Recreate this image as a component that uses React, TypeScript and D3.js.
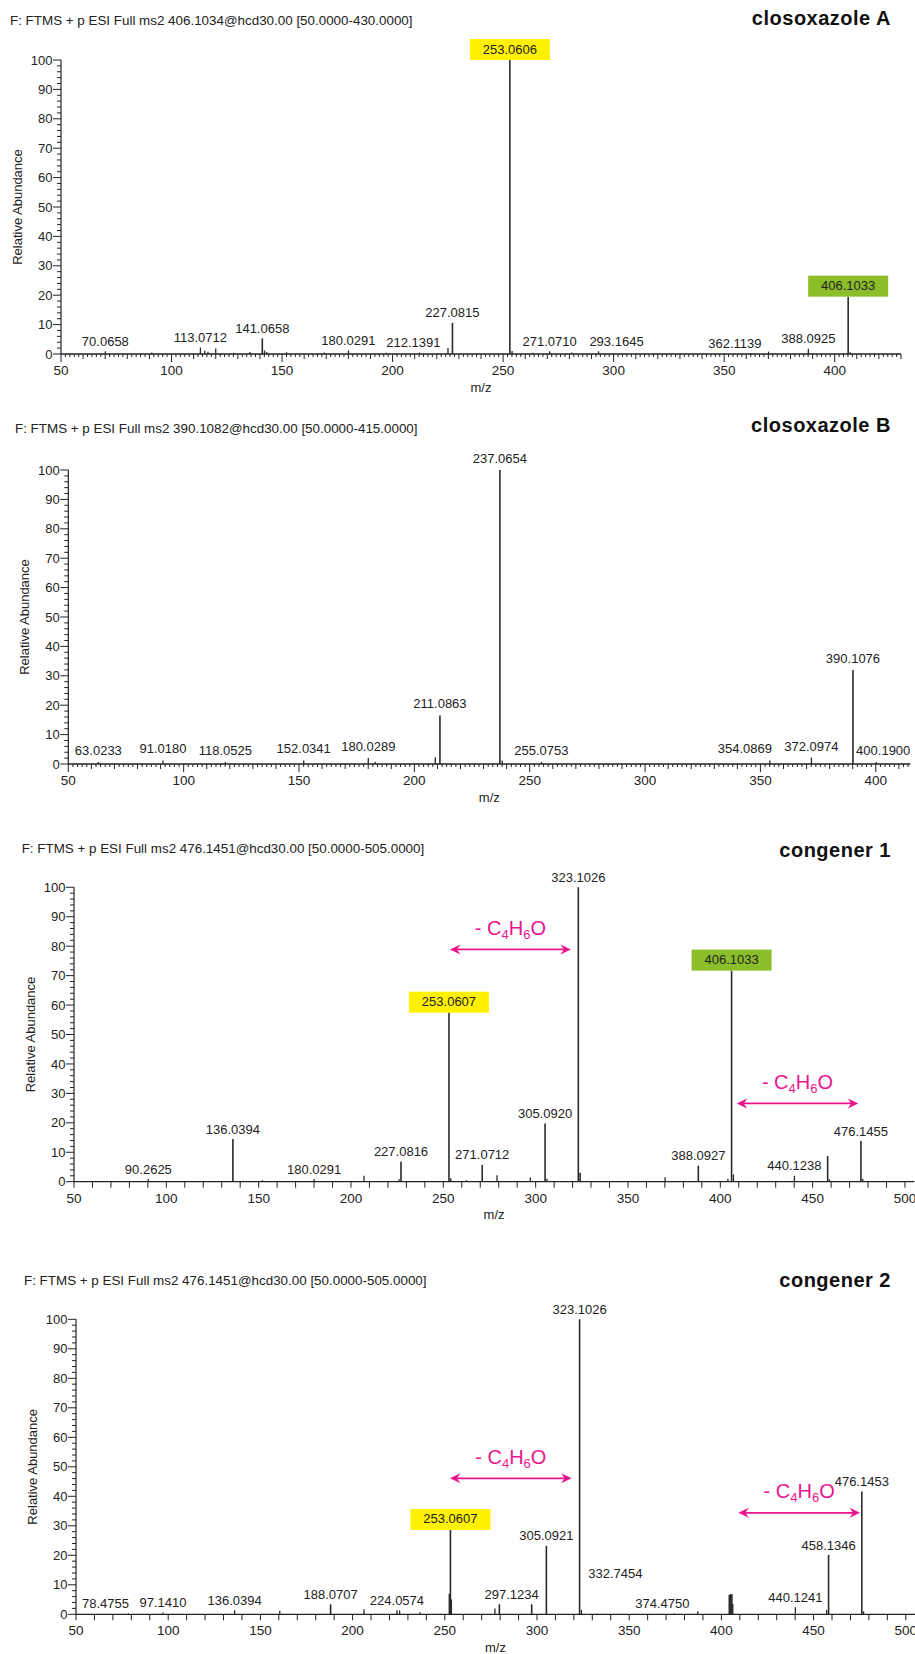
import React from 'react';
import * as d3 from 'd3';

// ---------- DATA ----------
const scanTitles = [
  'F: FTMS + p ESI Full ms2 406.1034@hcd30.00 [50.0000-430.0000]',
  'F: FTMS + p ESI Full ms2 390.1082@hcd30.00 [50.0000-415.0000]',
  'F: FTMS + p ESI Full ms2 476.1451@hcd30.00 [50.0000-505.0000]',
  'F: FTMS + p ESI Full ms2 476.1451@hcd30.00 [50.0000-505.0000]',
];
const compoundNames = ['closoxazole A', 'closoxazole B', 'congener 1', 'congener 2'];
const mzRanges: [number, number][] = [[50, 430], [50, 415], [50, 505], [50, 505]];
const yTickValues = [0, 10, 20, 30, 40, 50, 60, 70, 80, 90, 100];
const xAxisTitle = 'm/z';
const yAxisTitle = 'Relative Abundance';

// [m/z, relative abundance %]
const peaksA: [number, number][] = [
  [70.0658, 0.9], [91.05, 0.5], [113.0712, 2.2], [115.05, 1.2], [116.5, 0.8], [120.0, 1.9],
  [128.06, 0.4], [135.5, 0.7], [141.0658, 5.3], [142.07, 1.2], [143.07, 0.7], [152.06, 0.6],
  [169.07, 0.5], [180.0291, 1.2], [197.1, 0.4], [212.1391, 0.5], [225.07, 2.0], [227.0815, 10.6],
  [253.0606, 100], [254.06, 1.0], [263.5, 0.4], [271.071, 0.9], [281.08, 0.5], [293.1645, 0.9],
  [362.1139, 0.3], [370.1, 0.8], [388.0925, 1.8], [406.1033, 19.5], [407.1, 0.6],
];
const peaksB: [number, number][] = [
  [63.0233, 0.7], [91.018, 1.2], [118.0525, 0.7], [152.0341, 1.2], [180.0289, 2.0], [183.0, 0.8],
  [209.08, 2.3], [211.0863, 16.5], [237.0654, 100], [238.07, 1.2], [255.0753, 0.7],
  [354.0869, 1.2], [372.0974, 2.2], [390.1076, 32], [400.19, 0.7],
];
const peaksC1: [number, number][] = [
  [90.2625, 0.9], [136.0394, 14.5], [152.05, 0.5], [180.0291, 0.9], [207.07, 2.0], [226.07, 0.8],
  [227.0816, 6.8], [253.0607, 57.4], [254.06, 1.2], [262.6, 0.5], [271.0712, 5.7], [279.07, 2.2],
  [297.1, 1.4], [305.092, 19.8], [306.09, 1.0], [323.1026, 100], [324.1, 3.0], [370.1, 1.5],
  [388.0927, 5.4], [404.1, 1.0], [406.1033, 71.7], [407.1, 2.5], [440.1238, 2.0],
  [458.1346, 8.7], [459.1, 0.8], [476.1455, 13.8], [477.15, 1.0],
];
const peaksC2: [number, number][] = [
  [78.4755, 0.3], [97.141, 0.6], [136.0394, 1.4], [160.5, 1.2], [188.0707, 3.4], [206.2, 1.7],
  [224.0574, 1.4], [225.5, 1.3], [236.5, 0.7], [252.5, 7.0], [253.0607, 28.6], [253.5, 5.0],
  [277.2, 2.0], [279.6, 3.4], [297.1234, 3.4], [305.0921, 23.2], [323.1026, 100], [324.1, 1.5],
  [332.7454, 0.2], [374.475, 0.3], [387.2, 1.0], [404.3, 6.6], [405.0, 6.9], [405.7, 6.8],
  [406.1, 3.5], [440.1241, 2.4], [457.1, 1.5], [458.1346, 20.1], [476.1453, 41.6], [477.1, 1.0],
];
const allPeaks = [peaksA, peaksB, peaksC1, peaksC2];

const labelsA = ['70.0658', '113.0712', '141.0658', '180.0291', '212.1391', '227.0815', '253.0606',
  '271.0710', '293.1645', '362.1139', '388.0925', '406.1033'];
const labelsB = ['63.0233', '91.0180', '118.0525', '152.0341', '180.0289', '211.0863', '237.0654',
  '255.0753', '354.0869', '372.0974', '390.1076', '400.1900'];
const labelsC1 = ['90.2625', '136.0394', '180.0291', '227.0816', '253.0607', '271.0712', '305.0920',
  '323.1026', '388.0927', '406.1033', '440.1238', '476.1455'];
const labelsC2 = ['78.4755', '97.1410', '136.0394', '188.0707', '224.0574', '253.0607', '297.1234',
  '305.0921', '323.1026', '332.7454', '374.4750', '440.1241', '458.1346', '476.1453'];
const allLabels = [labelsA, labelsB, labelsC1, labelsC2];

// highlighted ions: [panel, label, kind]
const highlighted: [number, string, string][] = [
  [0, '253.0606', 'core'], [0, '406.1033', 'parent'],
  [2, '253.0607', 'core'], [2, '406.1033', 'parent'],
  [3, '253.0607', 'core'],
];

// neutral loss annotations: [panel, m/z from, m/z to, level %]
const lossArrows: [number, number, number, number][] = [
  [2, 253.6, 319.1, 78.9], [2, 408.9, 474.7, 26.6],
  [3, 252.8, 318.8, 46.1], [3, 409.2, 475.2, 34.4],
];

// ---------- LAYOUT / STYLE ----------
const W = 915, H = 1654;
const FONT = '"Liberation Sans", Arial, Helvetica, sans-serif';
const boxColors: Record<string, string> = { core: '#FFF200', parent: '#8CBE29' };
const PINK = '#EC148C';
const INK = '#222';

const layouts = [
  { x0: 61, x1: 901, y0: 354, y100: 60, titleX: 10, titleY: 25, nameY: 25, dense: true, gap: 5.5 },
  { x0: 68.3, x1: 910.4, y0: 764, y100: 470, titleX: 15, titleY: 433, nameY: 431.7, dense: true, gap: 7 },
  { x0: 74, x1: 914.2, y0: 1181.7, y100: 887.3, titleX: 21.7, titleY: 852.7, nameY: 856.7, dense: false, gap: 5.5 },
  { x0: 76, x1: 915, y0: 1614.3, y100: 1319.3, titleX: 24, titleY: 1285, nameY: 1287.3, dense: false, gap: 5.5 },
];
// label nudges in px (dx) and optional fixed baseline level (%)
const labelNudge: Record<string, { dx?: number; level?: number }>[] = [
  { '212.1391': { dx: -6 }, '293.1645': { dx: 18 }, '362.1139': { dx: -16 } },
  { '354.0869': { dx: -25 }, '400.1900': { dx: 7 } },
  {},
  { '78.4755': { dx: -23 }, '297.1234': { dx: -20 }, '332.7454': { dx: 18, level: 12.3 }, '374.4750': { dx: -12 } },
];

function Panel({ i }: { i: number }) {
  const L = layouts[i];
  const [m0, m1] = mzRanges[i];
  const x = d3.scaleLinear().domain([m0, m1]).range([L.x0, L.x1]);
  const y = d3.scaleLinear().domain([0, 100]).range([L.y0, L.y100]);
  const peaks = allPeaks[i];
  const xTicks = L.dense ? d3.range(m0, m1 + 0.001, 2) : d3.range(m0, m1 + 0.001, 10);
  const xLabels = d3.range(m0, m1 + 0.001, 50);
  const yMinor = d3.range(0, 100.001, 2);
  const boxes = highlighted.filter((h) => h[0] === i);
  const findInt = (v: number) => {
    const p = peaks.find((q) => Math.abs(q[0] - v) < 0.02);
    return p ? p[1] : 0;
  };
  const cx = (L.x0 + L.x1) / 2;
  const cy = (L.y0 + L.y100) / 2;

  return (
    <g>
      <text x={L.titleX} y={L.titleY} fontSize={13.4} fill={INK}>{scanTitles[i]}</text>
      <text x={891} y={L.nameY} fontSize={20} fontWeight="bold" letterSpacing={0.5} textAnchor="end" fill="#111">
        {compoundNames[i]}
      </text>

      {/* y axis */}
      <line x1={L.x0} x2={L.x0} y1={L.y0} y2={L.y100} stroke={INK} strokeWidth={1.2} />
      {yMinor.map((v) => (
        <line key={'ym' + v} x1={L.x0 - (v % 10 === 0 ? 8 : 4)} x2={L.x0} y1={y(v)} y2={y(v)} stroke={INK} strokeWidth={1} />
      ))}
      {yTickValues.map((v) => (
        <text key={'yl' + v} x={L.x0 - 8.5} y={y(v) + 4.6} fontSize={13} textAnchor="end" fill={INK}>{v}</text>
      ))}
      <text transform={`translate(${L.x0 - 39},${cy}) rotate(-90)`} fontSize={13} textAnchor="middle" fill={INK}>
        {yAxisTitle}
      </text>

      {/* x axis */}
      <line x1={L.x0} x2={L.x1} y1={L.y0} y2={L.y0} stroke={INK} strokeWidth={1.3} />
      {xTicks.map((v) => {
        const len = L.dense ? (v % 50 === 0 ? 8 : v % 10 === 0 ? 5 : 3) : 6;
        return <line key={'xt' + v} x1={x(v)} x2={x(v)} y1={L.y0} y2={L.y0 + len} stroke={INK} strokeWidth={1} />;
      })}
      {xLabels.map((v) => (
        <text key={'xl' + v} x={x(v)} y={L.y0 + 21} fontSize={13.5} textAnchor="middle" fill={INK}>{v}</text>
      ))}
      <text x={cx} y={L.y0 + 37.5} fontSize={13} textAnchor="middle" fill={INK}>{xAxisTitle}</text>

      {/* peaks */}
      {peaks.map(([mz, v], k) => (
        <line key={'p' + k} x1={x(mz)} x2={x(mz)} y1={L.y0} y2={y(v)} stroke="#2a2a2a" strokeWidth={v >= 3 ? 1.6 : 1.3} />
      ))}

      {/* labels */}
      {allLabels[i].map((t) => {
        if (boxes.some((b) => b[1] === t)) return null;
        const mz = parseFloat(t);
        const n = labelNudge[i][t] || {};
        const yy = n.level !== undefined ? y(n.level) : y(findInt(mz)) - L.gap;
        return (
          <text key={'lb' + t} x={x(mz) + (n.dx || 0)} y={yy} fontSize={13} textAnchor="middle" fill={INK}>{t}</text>
        );
      })}
      {boxes.map(([, t, kind]) => {
        const mz = parseFloat(t);
        const top = y(findInt(mz));
        return (
          <g key={'bx' + t}>
            <rect x={x(mz) - 40} y={top - 21} width={80} height={21} fill={boxColors[kind]} />
            <text x={x(mz)} y={top - 6.5} fontSize={13} textAnchor="middle" fill={INK}>{t}</text>
          </g>
        );
      })}

      {/* neutral loss arrows */}
      {lossArrows.filter((a) => a[0] === i).map(([, a, b, lv], k) => {
        const xa = x(a), xb = x(b), yy = y(lv);
        const head = (tip: number, dir: number) =>
          `M${tip},${yy}L${tip - dir * 10.5},${yy - 5}L${tip - dir * 7},${yy}L${tip - dir * 10.5},${yy + 5}Z`;
        return (
          <g key={'ar' + k}>
            <line x1={xa + 6} x2={xb - 6} y1={yy} y2={yy} stroke={PINK} strokeWidth={1.8} />
            <path d={head(xb, 1)} fill={PINK} />
            <path d={head(xa, -1)} fill={PINK} />
            <text x={(xa + xb) / 2} y={yy - 14.5} fontSize={20} textAnchor="middle" fill={PINK}>
              - C<tspan fontSize={13} dy={4}>4</tspan><tspan dy={-4}>H</tspan><tspan fontSize={13} dy={4}>6</tspan><tspan dy={-4}>O</tspan>
            </text>
          </g>
        );
      })}
    </g>
  );
}

export default function App() {
  return (
    <div>
      <style>{'body{margin:0;background:#fff}'}</style>
      <svg width={W} height={H} viewBox={`0 0 ${W} ${H}`} style={{ display: 'block', fontFamily: FONT }}>
        <rect width={W} height={H} fill="#fff" />
        {[0, 1, 2, 3].map((i) => <Panel key={i} i={i} />)}
      </svg>
    </div>
  );
}
